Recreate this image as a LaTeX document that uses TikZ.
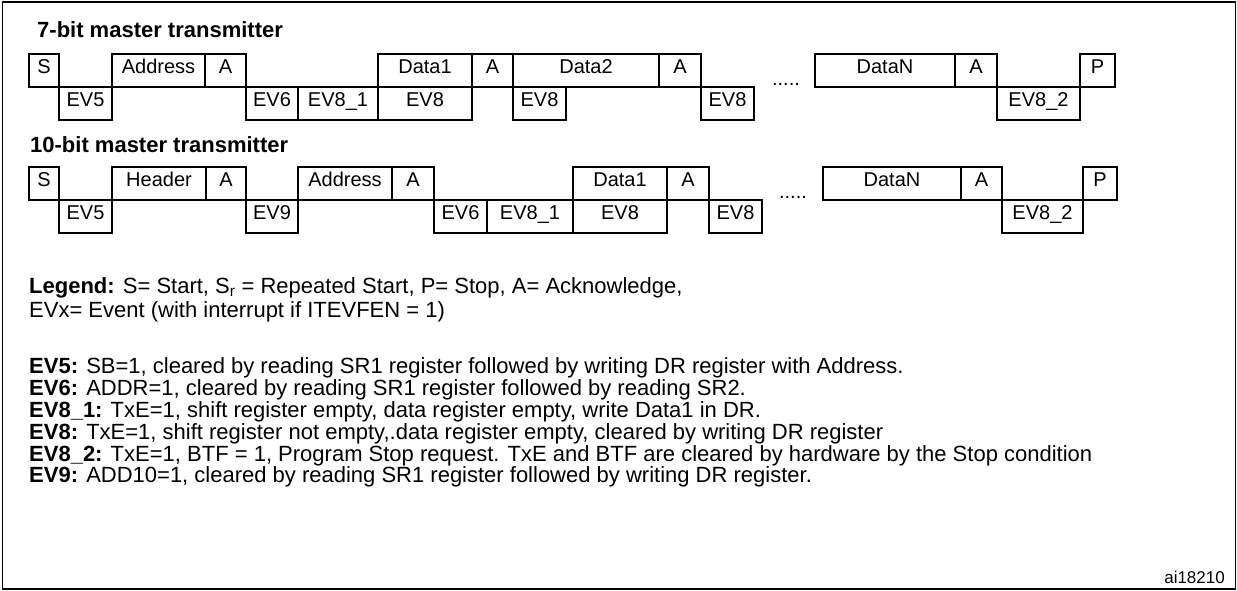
\documentclass[tikz,border=0pt]{standalone}
\usepackage{fontspec}
\setmainfont{Liberation Sans}
\begin{document}
\begin{tikzpicture}[x=1pt,y=-1pt,
  box/.style={draw,line width=1.2pt,inner sep=0pt,text height=1.5ex,text depth=.25ex},
  txt/.style={font=\fontsize{20}{22}\selectfont},
  ttl/.style={font=\fontsize{22}{24}\selectfont\bfseries,anchor=west,inner sep=0pt},
  leg/.style={font=\fontsize{22}{24}\selectfont,anchor=west,inner sep=0pt}]
\newcommand\bx[6]{\node[box,txt,minimum width={(#3-#2)*1pt},minimum height={(#5-#4)*1pt}] (#1) at ({(#2+#3)/2},{(#4+#5)/2}) {#6};}
\useasboundingbox (0,0) rectangle (1237,591);
\node[draw,line width=1.2pt,minimum width=1233pt,minimum height=587pt,inner sep=0pt] (frame) at (619,295.5) {};
\node[ttl] (t1) at (37,30) {7-bit master transmitter};
\bx{a1}{29}{59}{54}{87}{S}
\bx{a2}{59}{112}{87}{120}{EV5}
\bx{a3}{112}{205}{54}{87}{Address}
\bx{a4}{205}{246}{54}{87}{A}
\bx{a5}{246}{298}{87}{120}{EV6}
\bx{a6}{298}{378}{87}{120}{EV8\_1}
\bx{a7}{378}{472}{54}{87}{Data1}
\bx{a8}{378}{472}{87}{120}{EV8}
\bx{a9}{472}{513}{54}{87}{A}
\bx{a10}{513}{566}{87}{120}{EV8}
\bx{a11}{513}{659}{54}{87}{Data2}
\bx{a12}{659}{701}{54}{87}{A}
\bx{a13}{701}{754}{87}{120}{EV8}
\node[txt] (d1) at (786,84) {.....};
\bx{a14}{815}{955}{54}{87}{DataN}
\bx{a15}{955}{997}{54}{87}{A}
\bx{a16}{997}{1080}{87}{120}{EV8\_2}
\bx{a17}{1080}{1115}{54}{87}{P}
\node[ttl] (t2) at (30,145) {10-bit master transmitter};
\bx{b1}{29}{59}{167}{200}{S}
\bx{b2}{59}{112}{200}{233}{EV5}
\bx{b3}{112}{206}{167}{200}{Header}
\bx{b4}{206}{246}{167}{200}{A}
\bx{b5}{246}{298}{200}{233}{EV9}
\bx{b6}{298}{392}{167}{200}{Address}
\bx{b7}{392}{434}{167}{200}{A}
\bx{b8}{434}{487}{200}{233}{EV6}
\bx{b9}{487}{573}{200}{233}{EV8\_1}
\bx{b10}{573}{667}{167}{200}{Data1}
\bx{b11}{573}{667}{200}{233}{EV8}
\bx{b12}{667}{709}{167}{200}{A}
\bx{b13}{709}{762}{200}{233}{EV8}
\node[txt] (d2) at (793,197) {.....};
\bx{b14}{823}{961}{167}{200}{DataN}
\bx{b15}{961}{1002}{167}{200}{A}
\bx{b16}{1002}{1083}{200}{233}{EV8\_2}
\bx{b17}{1083}{1117}{167}{200}{P}
\node[leg] (l1) at (29,288) {\textbf{Legend:} S= Start, S$_{\mathrm{r}}$ = Repeated Start, P= Stop, A= Acknowledge,};
\node[leg] (l2) at (29,312) {EVx= Event (with interrupt if ITEVFEN = 1)};
\node[leg] (e1) at (29,368) {\textbf{EV5:} SB=1, cleared by reading SR1 register followed by writing DR register with Address.};
\node[leg] (e2) at (29,390) {\textbf{EV6:} ADDR=1, cleared by reading SR1 register followed by reading SR2.};
\node[leg] (e3) at (29,412) {\textbf{EV8\_1:} TxE=1, shift register empty, data register empty, write Data1 in DR.};
\node[leg] (e4) at (29,434) {\textbf{EV8:} TxE=1, shift register not empty,.data register empty, cleared by writing DR register};
\node[leg] (e5) at (29,456) {\textbf{EV8\_2:} TxE=1, BTF = 1, Program Stop request. TxE and BTF are cleared by hardware by the Stop condition};
\node[leg] (e6) at (29,477) {\textbf{EV9:} ADD10=1, cleared by reading SR1 register followed by writing DR register.};
\node[leg,anchor=east,font=\fontsize{17}{19}\selectfont] (id) at (1225,577) {ai18210};
\end{tikzpicture}
\end{document}
